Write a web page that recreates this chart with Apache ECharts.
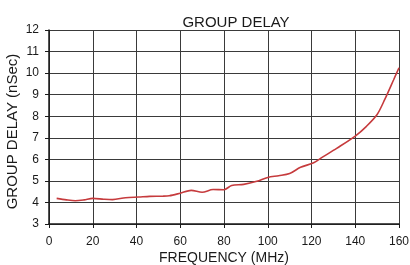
<!DOCTYPE html>
<html><head><meta charset="utf-8">
<script src="https://cdn.jsdelivr.net/npm/echarts@6/dist/echarts.min.js"></script>
<style>html,body{margin:0;padding:0;background:#fff}#c{width:410px;height:265px}</style>
</head><body><div id="c"></div>
<script>
var title = "GROUP DELAY";
var xTitle = "FREQUENCY (MHz)";
var yTitle = "GROUP DELAY (nSec)";
var freq = [3.5, 8, 12, 16, 20, 25, 29, 35, 41, 46, 52, 55, 60, 65, 70, 75, 80, 83.5, 89, 95, 100, 105, 110, 115, 121, 125, 131.5, 140, 145, 150, 153.5, 157.5, 160];
var delay = [4.19, 4.12, 4.08, 4.12, 4.19, 4.15, 4.13, 4.22, 4.25, 4.28, 4.29, 4.31, 4.43, 4.56, 4.47, 4.60, 4.59, 4.79, 4.84, 4.98, 5.16, 5.24, 5.34, 5.63, 5.84, 6.10, 6.51, 7.08, 7.52, 8.08, 8.78, 9.68, 10.25];
var data = freq.map(function (f, i) { return [f, delay[i]]; });
var font = "Liberation Sans, Arial, sans-serif";
var chart = echarts.init(document.getElementById('c'), null, {renderer: 'canvas'});
chart.setOption({
  animation: false,
  backgroundColor: '#fff',
  title: {text: title, left: 231, top: 10, textAlign: 'center',
    textStyle: {fontFamily: font, fontSize: 15, fontWeight: 'normal', color: '#1a1a1a'}},
  grid: {left: 49, right: 11, top: 30, bottom: 41, containLabel: false, outerBoundsMode: 'none'},
  xAxis: {type: 'value', min: 0, max: 160, interval: 20,
    name: xTitle, nameLocation: 'middle', nameGap: 27, nameMoveOverlap: false,
    nameTextStyle: {fontFamily: font, fontSize: 14, color: '#1a1a1a'},
    axisLine: {lineStyle: {color: '#1a1a1a', width: 1.5}},
    axisTick: {show: true, length: 4, lineStyle: {color: '#1a1a1a'}},
    axisLabel: {fontFamily: font, fontSize: 12, color: '#1a1a1a', margin: 12},
    splitLine: {show: true, lineStyle: {color: '#3a3a3a', width: 1}}},
  yAxis: {type: 'value', min: 3, max: 12, interval: 1,
    name: yTitle, nameLocation: 'middle', nameGap: 29, nameMoveOverlap: false,
    nameTextStyle: {fontFamily: font, fontSize: 15, color: '#1a1a1a', padding: [0, 9, 0, 0]},
    axisLine: {show: true, lineStyle: {color: '#1a1a1a', width: 1.5}},
    axisTick: {show: true, length: 4, lineStyle: {color: '#1a1a1a'}},
    axisLabel: {fontFamily: font, fontSize: 12, color: '#1a1a1a', margin: 10},
    splitLine: {show: true, lineStyle: {color: '#3a3a3a', width: 1}}},
  series: [{type: 'line', data: data, smooth: 0.3, showSymbol: false,
    lineStyle: {color: '#c63b3d', width: 1.6}}]
});
</script></body></html>
